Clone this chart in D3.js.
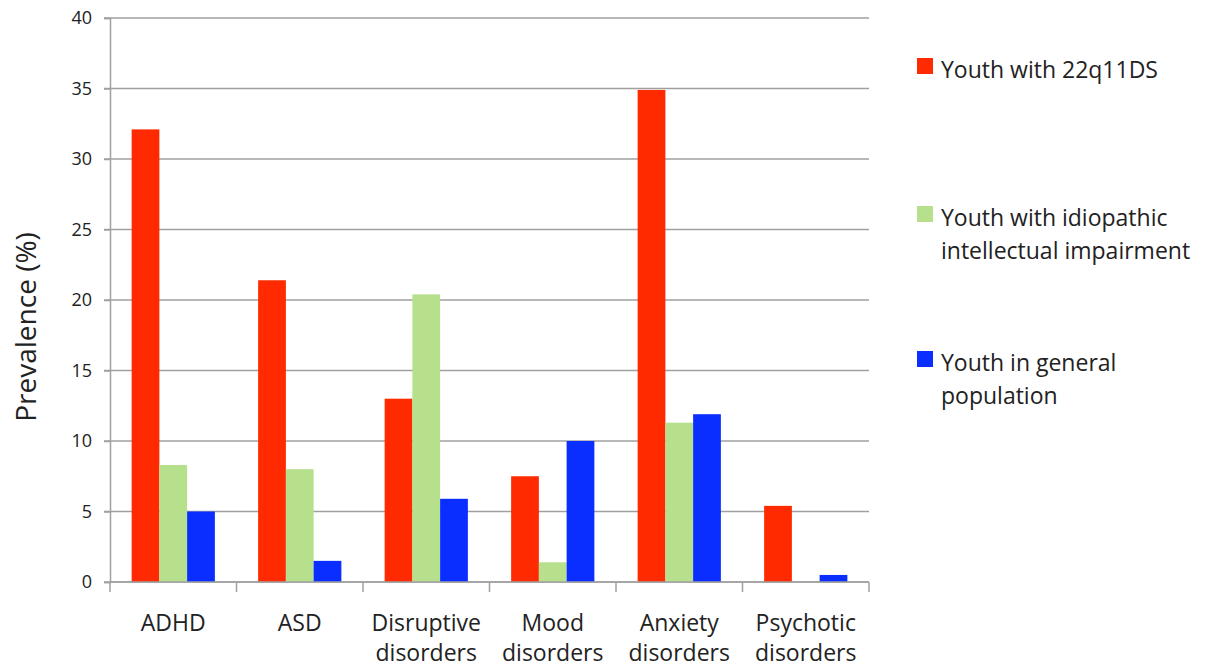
<!DOCTYPE html>
<html>
	<head>
		<title>Prevalence</title>
		<meta charset="utf-8" />
		<style type="text/css">
			body {
				margin: 0;
				background: #fff;
			}
			svg text {
				font-family: "Open Sans", Lato, sans-serif;
				fill: #222;
			}
		</style>
	</head>
	<body>
		<svg width="1230" height="668"></svg>

		<script type="text/javascript" src="https://cdn.jsdelivr.net/npm/d3@7"></script>
		<script type="text/javascript">
			// data
			var categories = [
				["ADHD"],
				["ASD"],
				["Disruptive", "disorders"],
				["Mood", "disorders"],
				["Anxiety", "disorders"],
				["Psychotic", "disorders"]
			];
			var seriesNames = [
				["Youth with 22q11DS"],
				["Youth with idiopathic", "intellectual impairment"],
				["Youth in general", "population"]
			];
			var seriesColors = ["#ff2a00", "#b6e08c", "#0a2eff"];
			var del22q = [32.1, 21.4, 13.0, 7.5, 34.9, 5.4];
			var idiopathic = [8.3, 8.0, 20.4, 1.4, 11.3, 0];
			var general = [5.0, 1.5, 5.9, 10.0, 11.9, 0.5];
			var yTicks = [0, 5, 10, 15, 20, 25, 30, 35, 40];

			var series = [del22q, idiopathic, general];

			var svg = d3.select("svg"),
				plotLeft = 110, plotRight = 869, plotTop = 18, plotBottom = 582;

			var x0 = d3.scaleBand()
				.domain(d3.range(categories.length))
				.range([plotLeft, plotRight])
				.padding(0);

			var x1 = d3.scaleBand()
				.domain(d3.range(series.length))
				.range([0, x0.bandwidth()])
				.paddingInner(0)
				.paddingOuter(0.78);

			var y = d3.scaleLinear()
				.domain([0, 40])
				.range([plotBottom, plotTop]);

			// grid
			svg.append("g")
				.selectAll("line")
				.data(yTicks)
				.enter().append("line")
				.attr("x1", plotLeft - 6)
				.attr("x2", plotRight)
				.attr("y1", function(d) { return y(d); })
				.attr("y2", function(d) { return y(d); })
				.attr("stroke", "#a0a0a0")
				.attr("stroke-width", 1.5);

			// y axis
			var yAxis = svg.append("g")
				.attr("transform", "translate(" + plotLeft + ",0)")
				.call(d3.axisLeft(y).tickValues(yTicks).tickSize(6).tickPadding(12));
			yAxis.select(".domain").attr("stroke", "#a0a0a0").attr("stroke-width", 1.5);
			yAxis.selectAll(".tick line").attr("stroke", "#a0a0a0").attr("stroke-width", 1.5);
			yAxis.selectAll(".tick text")
				.style("font-size", "18px")
				.style("font-family", "'Open Sans', sans-serif")
				.attr("fill", "#222");

			// bars
			var groups = svg.append("g")
				.selectAll("g")
				.data(categories.map(function(c, i) { return i; }))
				.enter().append("g")
				.attr("transform", function(i) { return "translate(" + x0(i) + ",0)"; });

			groups.selectAll("rect")
				.data(function(i) {
					return series.map(function(s, k) { return { k: k, v: s[i] }; });
				})
				.enter().append("rect")
				.attr("x", function(d) { return x1(d.k); })
				.attr("width", x1.bandwidth())
				.attr("y", function(d) { return y(d.v); })
				.attr("height", function(d) { return y(0) - y(d.v); })
				.attr("fill", function(d) { return seriesColors[d.k]; });

			// x axis
			var xAxis = svg.append("g")
				.attr("transform", "translate(0," + plotBottom + ")");
			xAxis.append("line")
				.attr("x1", plotLeft)
				.attr("x2", plotRight)
				.attr("stroke", "#a0a0a0")
				.attr("stroke-width", 1.5);
			xAxis.selectAll(".xtick")
				.data(d3.range(categories.length + 1))
				.enter().append("line")
				.attr("x1", function(i) { return plotLeft + i * x0.step(); })
				.attr("x2", function(i) { return plotLeft + i * x0.step(); })
				.attr("y1", 0)
				.attr("y2", 10)
				.attr("stroke", "#a0a0a0")
				.attr("stroke-width", 1.5);

			var xLabels = xAxis.selectAll(".xlabel")
				.data(categories)
				.enter().append("text")
				.attr("text-anchor", "middle")
				.attr("transform", function(d, i) {
					return "translate(" + (x0(i) + x0.bandwidth() / 2) + ",0)";
				})
				.style("font-size", "23px");
			xLabels.selectAll("tspan")
				.data(function(d) { return d; })
				.enter().append("tspan")
				.attr("x", 0)
				.attr("y", function(d, j) { return 49 + j * 30; })
				.text(function(d) { return d; });

			// y title
			svg.append("text")
				.attr("transform", "translate(36,327) rotate(-90)")
				.attr("text-anchor", "middle")
				.style("font-size", "28px")
				.text("Prevalence (%)");

			// legend
			var legendY = [58, 206, 351];
			var legend = svg.append("g")
				.selectAll("g")
				.data(seriesNames)
				.enter().append("g")
				.attr("transform", function(d, i) { return "translate(917," + legendY[i] + ")"; });

			legend.append("rect")
				.attr("width", 16)
				.attr("height", 16)
				.attr("fill", function(d, i) { return seriesColors[i]; });

			legend.append("text")
				.style("font-size", "23px")
				.selectAll("tspan")
				.data(function(d) { return d; })
				.enter().append("tspan")
				.attr("x", 24)
				.attr("y", function(d, j) { return 20 + j * 33; })
				.text(function(d) { return d; });
		</script>
	</body>
</html>
